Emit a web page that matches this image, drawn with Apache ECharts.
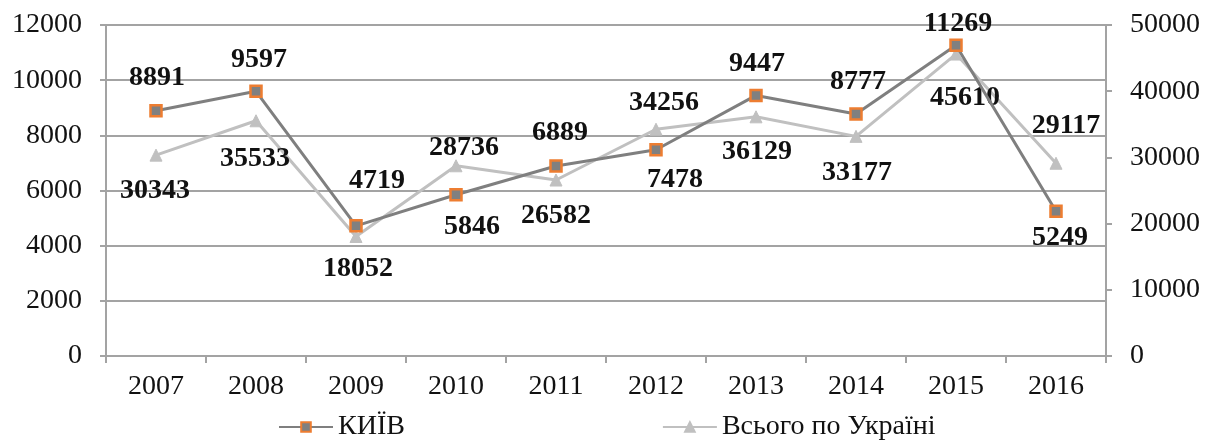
<!DOCTYPE html>
<html>
<head>
<meta charset="utf-8">
<script src="https://cdn.jsdelivr.net/npm/echarts@6/dist/echarts.min.js"></script>
<style>
  html, body { margin: 0; padding: 0; background: #fff; }
  #chart { width: 1215px; height: 442px; }
</style>
</head>
<body>
<div id="chart"></div>
<script>
// Years on the category axis
const years = ['2007', '2008', '2009', '2010', '2011', '2012', '2013', '2014', '2015', '2016'];
// Kyiv (left axis)
const kyiv = [8891, 9597, 4719, 5846, 6889, 7478, 9447, 8777, 11269, 5249];
// All of Ukraine (right axis)
const ukraine = [30343, 35533, 18052, 28736, 26582, 34256, 36129, 33177, 45610, 29117];

const kyivName = 'КИЇВ';
const ukraineName = 'Всього по Україні';

// Label offsets (px, relative to each point) so value labels avoid the lines
const kyivLabelOffsets = [[1, -33], [3, -32], [21, -45], [16, 32], [4, -33], [19, 30], [1, -32], [2, -32], [2, -21], [4, 27]];
const ukraineLabelOffsets = [[-1, 36], [-1, 38], [2, 32], [8, -18], [0, 36], [8, -26], [1, 35], [1, 36], [9, 44], [10, -37]];

const serif = '"Liberation Serif", "Times New Roman", serif';
const gridGray = '#a3a3a3';

function withLabels(values, offsets) {
  return values.map((v, i) => ({ value: v, label: { offset: offsets[i] } }));
}

const valueLabel = {
  show: true,
  position: 'inside',
  fontFamily: serif,
  fontWeight: 'bold',
  fontSize: 28,
  color: '#111'
};

const axisText = { fontFamily: serif, fontSize: 28, color: '#111' };

const chart = echarts.init(document.getElementById('chart'), null, { renderer: 'canvas' });
chart.setOption({
  animation: false,
  backgroundColor: '#fff',
  grid: { left: 106, right: 109, top: 25, bottom: 86 },
  legend: {
    top: 408,
    left: 273,
    itemGap: 257,
    itemWidth: 54,
    itemHeight: 12,
    textStyle: { fontFamily: serif, fontSize: 28, color: '#111' },
    data: [kyivName, ukraineName]
  },
  xAxis: {
    type: 'category',
    data: years,
    boundaryGap: true,
    axisLine: { lineStyle: { color: gridGray, width: 2 } },
    axisTick: { show: true, inside: false, length: 7, lineStyle: { color: gridGray, width: 2 } },
    axisLabel: Object.assign({ margin: 17 }, axisText)
  },
  yAxis: [
    {
      type: 'value',
      min: 0, max: 12000, interval: 2000,
      axisLine: { show: true, lineStyle: { color: gridGray, width: 2 } },
      axisTick: { show: true, length: 6, lineStyle: { color: gridGray, width: 2 } },
      splitLine: { show: true, lineStyle: { color: gridGray, width: 2 } },
      axisLabel: Object.assign({ margin: 24, formatter: v => String(v) }, axisText)
    },
    {
      type: 'value',
      min: 0, max: 50000, interval: 10000,
      position: 'right',
      axisLine: { show: true, lineStyle: { color: gridGray, width: 2 } },
      axisTick: { show: true, length: 6, lineStyle: { color: gridGray, width: 2 } },
      splitLine: { show: false },
      axisLabel: Object.assign({ margin: 24, formatter: v => String(v) }, axisText)
    }
  ],
  series: [
    {
      name: ukraineName,
      type: 'line',
      yAxisIndex: 1,
      data: withLabels(ukraine, ukraineLabelOffsets),
      symbol: 'triangle',
      symbolSize: 12,
      lineStyle: { color: '#c0c0c0', width: 3 },
      itemStyle: { color: '#c0c0c0', borderColor: '#c0c0c0', borderWidth: 1 },
      label: valueLabel,
      z: 2
    },
    {
      name: kyivName,
      type: 'line',
      yAxisIndex: 0,
      data: withLabels(kyiv, kyivLabelOffsets),
      symbol: 'rect',
      symbolSize: 11,
      lineStyle: { color: '#7f7f7f', width: 3 },
      itemStyle: { color: '#808080', borderColor: '#ed7d31', borderWidth: 2.5 },
      label: valueLabel,
      z: 3
    }
  ]
});
</script>
</body>
</html>
